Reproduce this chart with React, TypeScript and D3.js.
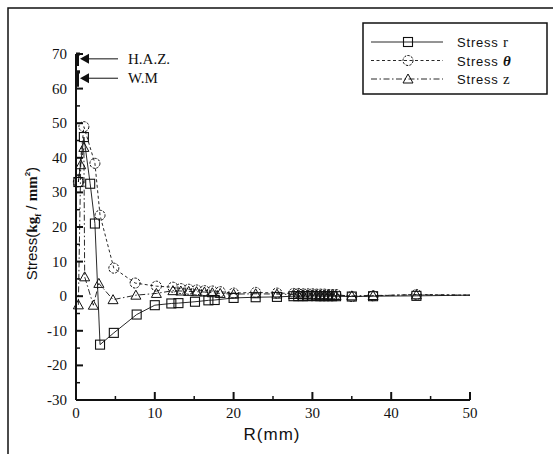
import * as d3 from "d3";

// radius (mm) and stress (kgf/mm^2)
const rR = [0.3, 1.0, 1.8, 2.4, 3.05, 4.8, 7.7, 10.0, 12.1, 13.0, 15.1, 16.8, 17.6, 20.0, 22.8, 25.5, 27.6, 28.2, 28.8, 29.4, 30.0, 30.5, 31.0, 31.5, 32.0, 32.5, 33.0, 35.0, 37.7, 43.2, 50];
const rS = [33, 46, 32.5, 21, -14, -10.6, -5.3, -2.6, -2.1, -2.0, -1.6, -1.2, -1.1, -0.5, -0.3, -0.2, 0, 0, 0, 0, 0.1, 0, 0, 0, 0, 0, 0, -0.1, 0, 0.1, 0.3];

const thR = [0.3, 1.0, 2.4, 3.05, 4.8, 7.5, 10.2, 12.3, 13.3, 14.3, 15.3, 16.3, 17.3, 18.3, 20.0, 22.8, 25.5, 27.6, 28.2, 28.8, 29.4, 30.0, 30.5, 31.0, 31.5, 32.0, 32.5, 33.0, 35.0, 37.7, 43.2, 50];
const thS = [33, 49, 38.4, 23.4, 8.1, 3.8, 2.9, 2.6, 2.2, 2.0, 1.8, 1.6, 1.5, 1.3, 0.9, 1.1, 0.9, 0.8, 0.8, 0.7, 0.7, 0.7, 0.6, 0.6, 0.6, 0.5, 0.5, 0.5, -0.1, 0.1, 0.5, 0.3];

const zR = [0.3, 0.6, 1.0, 1.1, 2.2, 2.9, 4.7, 7.6, 10.2, 12.3, 13.3, 14.3, 15.3, 16.3, 17.3, 18.3, 20.0, 22.8, 25.5, 27.6, 28.2, 28.8, 29.4, 30.0, 30.5, 31.0, 31.5, 32.0, 32.5, 33.0, 35.0, 37.7, 43.2, 50];
const zS = [-2.5, 38, 43, 5.6, -2.6, 3.7, -1.0, 0.3, 0.8, 1.6, 1.5, 1.4, 1.3, 1.2, 1.0, 0.8, 0.6, 0.7, 0.6, 0.5, 0.5, 0.4, 0.4, 0.4, 0.3, 0.3, 0.3, 0.3, 0.2, 0.2, 0.1, 0.2, 0.4, 0.3];

const xTicks = [0, 10, 20, 30, 40, 50];
const yTicks = [-30, -20, -10, 0, 10, 20, 30, 40, 50, 60, 70];

// weld zone marks on the stress axis
const zoneLabels = ["H.A.Z.", "W.M"];
const zoneArrowAt = [68.6, 63];
const zoneSpan: [number, number][] = [[66.5, 70], [60.5, 64.8]];

const legendNames = ["r", "θ", "z"];

const W = 553;
const H = 454;
const ink = "#111";
const serif = "Liberation Serif, Times New Roman, serif";
const sans = "Liberation Sans, Arial, sans-serif";

export default function App() {
  const x = d3.scaleLinear().domain([0, 50]).range([76, 470]);
  const y = d3.scaleLinear().domain([-30, 70]).range([400, 54]);

  const line = d3
    .line<[number, number]>()
    .x(d => x(d[0]))
    .y(d => y(d[1]));

  const series = [
    { pts: rR.map((r, i) => [r, rS[i]] as [number, number]), dash: undefined, shape: "square" },
    { pts: thR.map((r, i) => [r, thS[i]] as [number, number]), dash: "3,2.5", shape: "circle" },
    { pts: zR.map((r, i) => [r, zS[i]] as [number, number]), dash: "6,2.5,1.5,2.5", shape: "triangle" }
  ];

  const marker = (shape: string, cx: number, cy: number, key: string | number) => {
    if (shape === "square")
      return <rect key={key} x={cx - 4.5} y={cy - 4.5} width={9} height={9} fill="none" stroke={ink} strokeWidth={1.1} />;
    if (shape === "circle")
      return <circle key={key} cx={cx} cy={cy} r={5} fill="none" stroke={ink} strokeWidth={1} strokeDasharray="2.5,1.2" />;
    return (
      <path
        key={key}
        d={`M${cx},${cy - 5}L${cx + 5},${cy + 4}L${cx - 5},${cy + 4}Z`}
        fill="none"
        stroke={ink}
        strokeWidth={1}
      />
    );
  };

  const minorY = d3.range(-25, 70, 10);
  const minorX = d3.range(5, 50, 10);

  return (
    <svg width={W} height={H} style={{ position: "absolute", left: 0, top: 0, background: "#fff" }}>
      {/* page frame */}
      <path d={`M8,${H}V8H${W}`} fill="none" stroke={ink} strokeWidth={1.5} />

      {/* axes */}
      <line x1={x(0)} x2={x(0)} y1={y(70)} y2={y(-30)} stroke={ink} strokeWidth={2} />
      <line x1={x(0)} x2={x(50)} y1={y(-30)} y2={y(-30)} stroke={ink} strokeWidth={2} />
      {yTicks.map(t => (
        <g key={t}>
          <line x1={x(0)} x2={x(0) + 7} y1={y(t)} y2={y(t)} stroke={ink} strokeWidth={2} />
          <text x={67} y={y(t) + 5} textAnchor="end" fontFamily={serif} fontSize={15} fill={ink}>
            {t}
          </text>
        </g>
      ))}
      {minorY.map(t => (
        <line key={t} x1={x(0)} x2={x(0) + 4} y1={y(t)} y2={y(t)} stroke={ink} strokeWidth={1.5} />
      ))}
      {xTicks.map(t => (
        <g key={t}>
          <line x1={x(t)} x2={x(t)} y1={y(-30)} y2={y(-30) - 8} stroke={ink} strokeWidth={2} />
          <text x={x(t)} y={y(-30) + 18} textAnchor="middle" fontFamily={serif} fontSize={15} fill={ink}>
            {t}
          </text>
        </g>
      ))}
      {minorX.map(t => (
        <line key={t} x1={x(t)} x2={x(t)} y1={y(-30)} y2={y(-30) - 4} stroke={ink} strokeWidth={1.5} />
      ))}

      {/* axis titles */}
      <text x={272} y={440} textAnchor="middle" fontFamily={sans} fontSize={17} letterSpacing={1} fill={ink}>
        R(mm)
      </text>
      <text
        transform={`translate(37,${y(21)}) rotate(-90)`}
        textAnchor="middle"
        fontFamily={sans}
        fontSize={15}
        fill={ink}
      >
        Stress(
        <tspan fontWeight="bold" fontFamily={serif}>kg</tspan>
        <tspan fontWeight="bold" fontFamily={serif} fontSize={9} dy={4}>f</tspan>
        <tspan dy={-4}> / </tspan>
        <tspan fontWeight="bold" fontFamily={serif}>mm</tspan>
        <tspan fontWeight="bold" fontSize={8} dy={-7}>2</tspan>
        <tspan dy={7}>)</tspan>
      </text>

      {/* weld zone marks */}
      {zoneLabels.map((lab, i) => {
        const ay = y(zoneArrowAt[i]);
        return (
          <g key={lab}>
            <path
              d={`M${x(0) + 4},${y(zoneSpan[i][1])}H${x(0) + 1.5}V${y(zoneSpan[i][0])}`}
              fill="none"
              stroke={ink}
              strokeWidth={3}
            />
            <path d={`M${x(0) + 4},${ay}L${x(0) + 13},${ay - 5}V${ay + 5}Z`} fill={ink} />
            <line x1={x(0) + 12} x2={118} y1={ay} y2={ay} stroke={ink} strokeWidth={1} />
            <text x={128} y={ay + 5} fontFamily={serif} fontSize={15} fill={ink}>
              {lab}
            </text>
          </g>
        );
      })}

      {/* series */}
      {series.map((s, si) => (
        <g key={si}>
          <path d={line(s.pts) || undefined} fill="none" stroke={ink} strokeWidth={0.9} strokeDasharray={s.dash} />
          {s.pts.slice(0, -1).map((p, i) => marker(s.shape, x(p[0]), y(p[1]), i))}
        </g>
      ))}

      {/* legend */}
      <rect x={363} y={23} width={184} height={71} fill="#fff" stroke={ink} strokeWidth={1.5} />
      {series.map((s, i) => {
        const ly = 42 + i * 18.5;
        return (
          <g key={i}>
            <line x1={371} x2={443} y1={ly} y2={ly} stroke={ink} strokeWidth={0.9} strokeDasharray={s.dash} />
            {marker(s.shape, 408, ly, "m")}
            <text x={457} y={ly + 5} fontFamily={sans} fontSize={13} letterSpacing={0.8} fill={ink}>
              {"Stress  "}
              {legendNames[i] === "θ" ? (
                <tspan fontFamily={serif} fontWeight="bold" fontStyle="italic" fontSize={15}>
                  θ
                </tspan>
              ) : (
                <tspan fontFamily={serif} fontSize={15}>{legendNames[i]}</tspan>
              )}
            </text>
          </g>
        );
      })}
    </svg>
  );
}
